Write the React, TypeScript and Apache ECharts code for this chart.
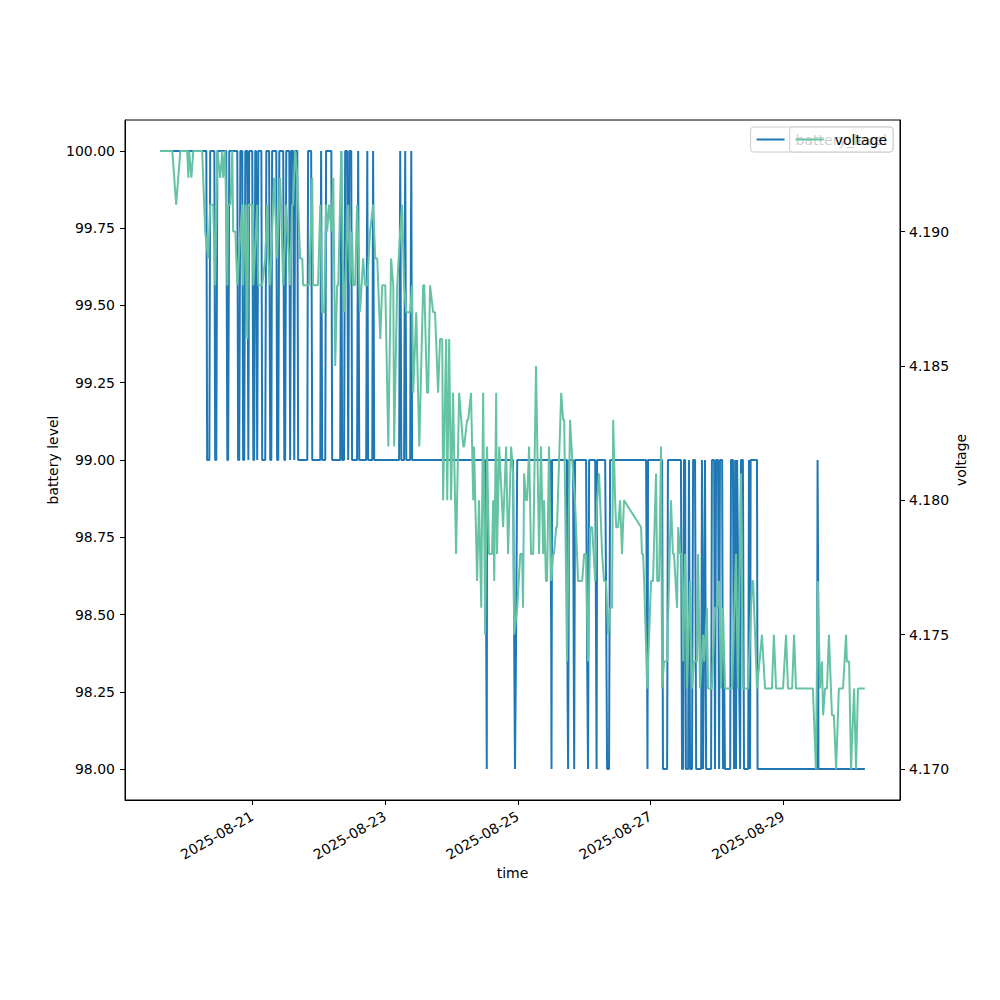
import React, { useEffect, useRef } from 'react';
import * as echarts from 'echarts';

// hours since 2025-08-19 00:00 UTC, value
const batteryLevel: [number, number][] = [
  [14.8, 100], [31.4, 100], [31.7, 99], [32.5, 99], [32.8, 100], [34.3, 100], [34.6, 99], [35.0, 99],
  [35.4, 100], [38.6, 100], [39.0, 99], [39.3, 99], [39.7, 100], [42.6, 100], [42.9, 99], [43.3, 99],
  [43.7, 100], [44.4, 100], [44.7, 99], [45.1, 99], [45.5, 100], [46.2, 100], [46.6, 99], [46.9, 100],
  [48.0, 100], [48.4, 99], [48.7, 99], [49.1, 100], [49.4, 100], [49.8, 99], [50.2, 100], [51.3, 100],
  [51.6, 99], [52.7, 99], [53.1, 100], [54.1, 100], [54.5, 99], [54.9, 99], [55.2, 100], [56.7, 100],
  [57.0, 99], [57.4, 99], [57.8, 100], [59.2, 100], [59.6, 99], [59.9, 99], [60.3, 100], [61.4, 100],
  [61.7, 99], [62.1, 100], [62.8, 100], [63.2, 99], [63.5, 100], [64.3, 100], [64.6, 99], [67.9, 99],
  [68.2, 100], [69.3, 100], [69.7, 99], [72.6, 99], [72.9, 100], [73.3, 99], [74.4, 99], [74.7, 100],
  [76.6, 100], [76.9, 99], [79.8, 99], [80.2, 100], [80.5, 99], [81.2, 99], [81.6, 100], [82.3, 100],
  [82.7, 99], [83.1, 100], [83.8, 100], [84.1, 99], [85.9, 99], [86.3, 100], [86.7, 99], [89.2, 99],
  [89.6, 100], [89.9, 99], [91.4, 99], [91.7, 100], [92.1, 99], [101.1, 99], [101.5, 100], [101.9, 99],
  [102.9, 99], [103.3, 100], [103.7, 99], [105.1, 99], [105.5, 100], [105.8, 99], [132.2, 99],
  [132.6, 98.43], [132.8, 98], [132.9, 99], [142.3, 99], [142.7, 98.43], [143.0, 98], [143.4, 98.43],
  [143.8, 99], [155.7, 99], [156.1, 98.43], [156.2, 98], [156.4, 99], [161.8, 99], [162.0, 98.26],
  [162.2, 98], [162.6, 99], [164.0, 99], [164.2, 98.43], [164.4, 98], [164.7, 99], [168.7, 99],
  [169.1, 98.35], [169.4, 98], [169.8, 99], [172.0, 99], [172.3, 98.43], [172.5, 98], [172.7, 99],
  [175.6, 99], [175.9, 98.61], [176.3, 98], [177.0, 98], [177.4, 99], [190.4, 99], [190.8, 98.26],
  [190.9, 98], [191.1, 99], [196.2, 99], [196.5, 98], [198.0, 98], [198.3, 99], [203.0, 99],
  [203.4, 98], [203.8, 98], [204.1, 99], [204.5, 99], [204.8, 98], [205.6, 98], [205.9, 99],
  [206.3, 98], [207.0, 98], [207.4, 99], [208.1, 99], [208.5, 98], [210.3, 98], [210.6, 99],
  [211.0, 98], [211.7, 99], [212.1, 98], [213.9, 98], [214.2, 99], [215.0, 99], [215.3, 98],
  [215.7, 99], [216.4, 99], [216.8, 98], [217.1, 99], [217.9, 99], [218.2, 98], [218.6, 98.35],
  [218.9, 98], [220.8, 98], [221.1, 99], [221.8, 99], [222.2, 98], [222.6, 99], [222.9, 98],
  [223.3, 99], [224.0, 98.35], [224.4, 98], [224.7, 99], [225.4, 99], [225.8, 98], [227.3, 98],
  [227.6, 99], [228.0, 98], [228.2, 99], [230.5, 99], [230.7, 98], [252.2, 98], [252.4, 99],
  [252.6, 98.62], [252.7, 98], [269.5, 98]
];

const voltage: [number, number][] = [
  [14.8, 4.193], [19.1, 4.193], [20.5, 4.191], [22.0, 4.193], [24.5, 4.193], [24.9, 4.192], [25.2, 4.193],
  [26.0, 4.192], [26.7, 4.193], [29.9, 4.193], [31.0, 4.190], [32.1, 4.189], [32.8, 4.191], [33.9, 4.191],
  [34.6, 4.188], [35.4, 4.193], [36.4, 4.192], [37.2, 4.193], [37.5, 4.192], [38.2, 4.193], [39.0, 4.188],
  [39.3, 4.191], [40.1, 4.191], [40.8, 4.193], [41.1, 4.190], [41.9, 4.190], [42.6, 4.188], [43.7, 4.190],
  [44.4, 4.191], [44.7, 4.188], [45.5, 4.191], [46.2, 4.186], [46.6, 4.191], [48.0, 4.191], [48.4, 4.188],
  [49.8, 4.191], [50.2, 4.188], [51.6, 4.188], [52.7, 4.189], [53.4, 4.191], [53.8, 4.189], [54.5, 4.188],
  [55.2, 4.190], [55.9, 4.192], [57.0, 4.189], [58.1, 4.192], [59.2, 4.188], [60.3, 4.191], [61.7, 4.188],
  [62.4, 4.191], [62.8, 4.191], [63.5, 4.193], [64.3, 4.192], [65.3, 4.189], [66.1, 4.189], [66.4, 4.188],
  [67.9, 4.188], [68.6, 4.188], [69.7, 4.192], [70.0, 4.188], [71.8, 4.188], [72.6, 4.191], [73.3, 4.187],
  [74.0, 4.187], [74.7, 4.191], [75.1, 4.190], [75.8, 4.191], [76.6, 4.190], [77.3, 4.192], [78.0, 4.185],
  [78.7, 4.188], [79.1, 4.188], [80.2, 4.193], [80.9, 4.188], [81.2, 4.187], [82.0, 4.189], [82.7, 4.191],
  [83.4, 4.188], [84.1, 4.190], [84.5, 4.188], [85.2, 4.188], [85.9, 4.191], [87.0, 4.187], [88.1, 4.189],
  [88.8, 4.188], [89.6, 4.188], [90.6, 4.190], [91.7, 4.191], [92.5, 4.189], [93.2, 4.189], [94.3, 4.186],
  [95.0, 4.188], [96.1, 4.188], [97.2, 4.182], [98.2, 4.189], [99.0, 4.188], [99.3, 4.182], [100.4, 4.188],
  [101.5, 4.190], [102.2, 4.191], [102.9, 4.188], [103.7, 4.187], [105.1, 4.187], [105.8, 4.188],
  [106.2, 4.184], [107.3, 4.187], [108.4, 4.182], [109.8, 4.188], [110.2, 4.188], [111.2, 4.184],
  [111.6, 4.184], [112.3, 4.188], [113.4, 4.187], [114.1, 4.187], [115.2, 4.184], [115.9, 4.186],
  [116.7, 4.186], [117.0, 4.180], [118.1, 4.186], [118.5, 4.180], [119.2, 4.186], [119.9, 4.180],
  [120.6, 4.184], [121.7, 4.178], [122.8, 4.184], [124.3, 4.182], [124.6, 4.182], [125.7, 4.183],
  [126.1, 4.183], [127.1, 4.184], [127.9, 4.180], [128.2, 4.182], [129.3, 4.177], [130.0, 4.180],
  [130.8, 4.176], [131.5, 4.184], [132.2, 4.175], [132.9, 4.182], [133.6, 4.178], [134.7, 4.178],
  [135.1, 4.180], [135.5, 4.177], [136.2, 4.184], [136.5, 4.178], [137.3, 4.182], [138.7, 4.179],
  [139.8, 4.182], [140.5, 4.178], [141.6, 4.182], [142.3, 4.181], [142.7, 4.175], [143.8, 4.176],
  [144.9, 4.178], [145.6, 4.178], [145.9, 4.176], [146.3, 4.181], [147.0, 4.180], [147.4, 4.180],
  [148.1, 4.182], [148.8, 4.178], [149.6, 4.178], [150.6, 4.185], [151.7, 4.178], [152.4, 4.182],
  [153.2, 4.178], [153.5, 4.180], [154.2, 4.177], [154.6, 4.177], [155.3, 4.182], [156.1, 4.177],
  [156.8, 4.178], [157.1, 4.178], [157.9, 4.179], [158.2, 4.179], [159.7, 4.184], [160.4, 4.183],
  [160.8, 4.183], [161.8, 4.174], [162.9, 4.183], [164.0, 4.181], [164.7, 4.180], [165.8, 4.177],
  [167.3, 4.177], [168.0, 4.178], [168.7, 4.178], [169.4, 4.174], [170.2, 4.179], [170.9, 4.179],
  [172.0, 4.177], [172.7, 4.180], [173.4, 4.181], [174.5, 4.178], [175.2, 4.177], [175.9, 4.177],
  [176.7, 4.175], [177.4, 4.176], [178.1, 4.176], [178.5, 4.183], [179.2, 4.180], [179.6, 4.179],
  [180.3, 4.179], [181.0, 4.180], [181.7, 4.178], [182.4, 4.180], [188.6, 4.179], [188.9, 4.178],
  [189.3, 4.178], [189.7, 4.177], [190.8, 4.173], [192.2, 4.177], [192.9, 4.177], [194.0, 4.181],
  [194.4, 4.177], [195.1, 4.177], [195.8, 4.182], [196.2, 4.173], [196.9, 4.174], [198.0, 4.174],
  [199.4, 4.180], [200.1, 4.178], [200.5, 4.178], [201.6, 4.176], [202.0, 4.179], [202.7, 4.178],
  [203.4, 4.178], [203.8, 4.174], [204.5, 4.178], [205.2, 4.173], [206.3, 4.177], [207.0, 4.173],
  [207.7, 4.174], [208.8, 4.174], [209.2, 4.178], [209.9, 4.173], [211.0, 4.175], [211.4, 4.174],
  [212.4, 4.176], [212.8, 4.173], [214.2, 4.173], [215.3, 4.176], [216.1, 4.176], [216.8, 4.177],
  [217.5, 4.173], [218.2, 4.176], [218.9, 4.173], [221.5, 4.173], [222.9, 4.178], [223.6, 4.173],
  [224.7, 4.181], [225.4, 4.173], [227.3, 4.173], [228.7, 4.177], [229.1, 4.177], [230.5, 4.173],
  [232.3, 4.175], [233.4, 4.173], [235.9, 4.173], [236.6, 4.175], [237.4, 4.173], [239.9, 4.173],
  [241.0, 4.175], [241.7, 4.173], [243.2, 4.173], [243.9, 4.175], [244.6, 4.173], [250.7, 4.173],
  [251.8, 4.170], [252.5, 4.177], [253.3, 4.173], [254.0, 4.174], [254.4, 4.172], [255.1, 4.173],
  [255.8, 4.173], [256.5, 4.175], [257.6, 4.172], [258.3, 4.172], [259.1, 4.170], [260.1, 4.173],
  [261.6, 4.173], [262.7, 4.175], [263.0, 4.174], [263.8, 4.174], [264.5, 4.170], [265.6, 4.173],
  [266.3, 4.170], [267.0, 4.173], [269.5, 4.173]
];

const timeTicks = [48, 96, 144, 192, 240];
const batteryTicks = [98, 98.25, 98.5, 98.75, 99, 99.25, 99.5, 99.75, 100];
const voltageTicks = [4.17, 4.175, 4.18, 4.185, 4.19];

const BASE = Date.UTC(2025, 7, 19);
const FONT = 'DejaVu Sans';

const pad = (n: number) => (n < 10 ? '0' + n : '' + n);
const fmtDate = (h: number) => {
  const d = new Date(BASE + h * 3600000);
  return `${d.getUTCFullYear()}-${pad(d.getUTCMonth() + 1)}-${pad(d.getUTCDate())}`;
};

const App: React.FC = () => {
  const chartRef = useRef<HTMLDivElement>(null);

  useEffect(() => {
    if (!chartRef.current) return;
    const chart = echarts.init(chartRef.current, null, { renderer: 'svg' });

    // two stacked legend boxes, like matplotlib's twin-axes legends
    const legendBase = {
      right: 107,
      top: 127,
      orient: 'horizontal' as const,
      icon: 'rect',
      itemWidth: 28,
      itemHeight: 2,
      padding: [5, 6, 5, 6],
      backgroundColor: 'rgba(255,255,255,0.8)',
      borderColor: '#cccccc',
      borderWidth: 1,
      borderRadius: 3,
      textStyle: { fontFamily: FONT, fontSize: 14, color: '#000', lineHeight: 15, padding: [0, 0, 0, 6] }
    };

    chart.setOption({
      animation: false,
      textStyle: { fontFamily: FONT },
      grid: {
        left: 125,
        top: 120,
        width: 775,
        height: 680,
        show: true,
        borderColor: '#000',
        borderWidth: 1,
        containLabel: false
      },
      legend: [
        { ...legendBase, data: ['battery_level'], z: 10 },
        { ...legendBase, data: ['voltage'], z: 11 }
      ],
      xAxis: {
        type: 'value',
        min: 2.0,
        max: 282.2,
        name: 'time',
        nameLocation: 'middle',
        nameGap: 66,
        nameMoveOverlap: false,
        nameTextStyle: { fontFamily: FONT, fontSize: 14, color: '#000' },
        axisLine: { show: true, lineStyle: { color: '#000', width: 1 } },
        axisTick: { show: true, length: 5, lineStyle: { color: '#000' }, customValues: timeTicks },
        axisLabel: {
          customValues: timeTicks,
          rotate: 30,
          margin: 15,
          fontFamily: FONT,
          fontSize: 14,
          color: '#000',
          formatter: (v: number) => fmtDate(v)
        },
        splitLine: { show: false }
      },
      yAxis: [
        {
          type: 'value',
          position: 'left',
          min: 97.9,
          max: 100.1,
          name: 'battery level',
          nameLocation: 'middle',
          nameRotate: 90,
          nameGap: 65,
          nameMoveOverlap: false,
          nameTextStyle: { fontFamily: FONT, fontSize: 14, color: '#000' },
          axisLine: { show: true, lineStyle: { color: '#000', width: 1 } },
          axisTick: { show: true, length: 5, lineStyle: { color: '#000' }, customValues: batteryTicks },
          axisLabel: {
            customValues: batteryTicks,
            margin: 10,
            fontFamily: FONT,
            fontSize: 14,
            color: '#000',
            formatter: (v: number) => v.toFixed(2)
          },
          splitLine: { show: false }
        },
        {
          type: 'value',
          position: 'right',
          min: 4.16885,
          max: 4.19415,
          name: 'voltage',
          nameLocation: 'middle',
          nameRotate: 90,
          nameGap: 54,
          nameMoveOverlap: false,
          nameTextStyle: { fontFamily: FONT, fontSize: 14, color: '#000' },
          axisLine: { show: true, lineStyle: { color: '#000', width: 1 } },
          axisTick: { show: true, length: 5, lineStyle: { color: '#000' }, customValues: voltageTicks },
          axisLabel: {
            customValues: voltageTicks,
            margin: 9,
            fontFamily: FONT,
            fontSize: 14,
            color: '#000',
            formatter: (v: number) => v.toFixed(3)
          },
          splitLine: { show: false }
        }
      ],
      series: [
        {
          name: 'battery_level',
          type: 'line',
          yAxisIndex: 0,
          data: batteryLevel,
          symbol: 'none',
          lineStyle: { color: '#1f77b4', width: 2 },
          itemStyle: { color: '#1f77b4' },
          z: 2
        },
        {
          name: 'voltage',
          type: 'line',
          yAxisIndex: 1,
          data: voltage,
          symbol: 'none',
          lineStyle: { color: '#66c2a5', width: 2 },
          itemStyle: { color: '#66c2a5' },
          z: 3
        }
      ]
    });

    return () => {
      chart.dispose();
    };
  }, []);

  return (
    <div
      ref={chartRef}
      style={{ position: 'fixed', left: 0, top: 0, width: 1000, height: 1000, background: '#fff' }}
    />
  );
};

export default App;
